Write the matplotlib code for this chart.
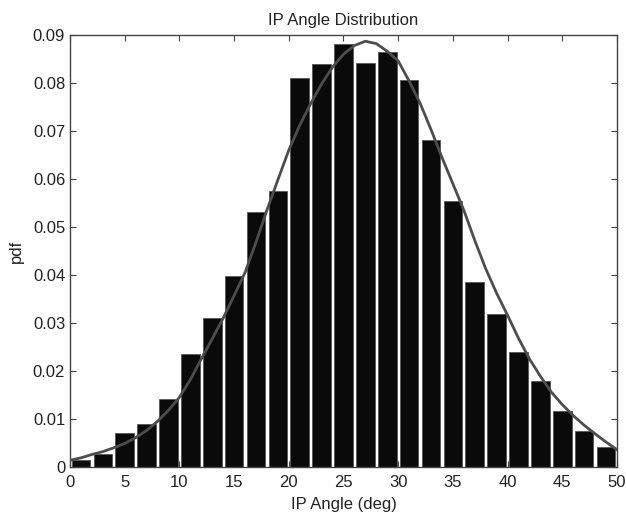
import numpy as np
import matplotlib
matplotlib.use('Agg')
import matplotlib.pyplot as plt

plt.rcParams['font.family'] = ['Liberation Sans', 'DejaVu Sans']

# histogram (pdf per 2 deg bin), bin centres 1, 3, ..., 49
bin_centers = [1, 3, 5, 7, 9, 11, 13, 15, 17, 19, 21, 23, 25,
               27, 29, 31, 33, 35, 37, 39, 41, 43, 45, 47, 49]
pdf_values = [0.0015, 0.0027, 0.0071, 0.0089, 0.0142, 0.0235, 0.0310, 0.0398,
              0.0531, 0.0575, 0.0810, 0.0840, 0.0881, 0.0842, 0.0865, 0.0806,
              0.0681, 0.0555, 0.0386, 0.0319, 0.0240, 0.0179, 0.0117, 0.0074,
              0.0042]

# fitted curve
fit_x = [0, 1, 2, 3, 4, 5, 6, 7, 8, 9, 10, 11, 12, 13, 14, 15, 16, 17, 18,
         19, 20, 21, 22, 23, 24, 25, 26, 27, 28, 29, 30, 31, 32, 33, 34, 35,
         36, 37, 38, 39, 40, 41, 42, 43, 44, 45, 46, 47, 48, 49, 50]
fit_y = [0.0014, 0.0019, 0.0026, 0.0032, 0.0040, 0.0049, 0.0061, 0.0076,
         0.0095, 0.0118, 0.0145, 0.0182, 0.0225, 0.0267, 0.0310, 0.0357,
         0.0405, 0.0468, 0.0535, 0.0598, 0.0660, 0.0712, 0.0757, 0.0798,
         0.0833, 0.0860, 0.0878, 0.0887, 0.0882, 0.0866, 0.0846, 0.0804,
         0.0758, 0.0703, 0.0645, 0.0590, 0.0535, 0.0472, 0.0413, 0.0362,
         0.0316, 0.0268, 0.0225, 0.0189, 0.0156, 0.0130, 0.0107, 0.0087,
         0.0069, 0.0052, 0.0036]

fig = plt.figure(figsize=(6.26, 5.13), dpi=100)
ax = fig.add_axes([0.1118, 0.0897, 0.8738, 0.8421])

ax.bar(bin_centers, pdf_values, width=1.7, color='#0a0a0a',
       edgecolor='#555555', linewidth=0.6, zorder=2)
ax.plot(fit_x, fit_y, color='#4d4d4d', linewidth=2.0, zorder=3)

ax.set_xlim(0, 50)
ax.set_ylim(0, 0.09)
ax.set_xticks(np.arange(0, 51, 5))
ax.set_yticks(np.arange(0, 0.0901, 0.01))
ax.set_yticklabels(['0', '0.01', '0.02', '0.03', '0.04', '0.05',
                    '0.06', '0.07', '0.08', '0.09'])

txt = '#222222'
ax.tick_params(direction='in', top=True, right=True, length=4,
               labelsize=12, colors='#444444', labelcolor=txt)
ax.tick_params(axis='x', pad=6)
for s in ax.spines.values():
    s.set_color('#444444')
    s.set_linewidth(1.0)

ax.set_title('IP Angle Distribution', fontsize=12, color=txt, pad=7)
ax.set_xlabel('IP Angle (deg)', fontsize=12, color=txt, labelpad=5)
ax.set_ylabel('pdf', fontsize=12, color=txt, labelpad=6)

fig.savefig('out.png', dpi=100)
